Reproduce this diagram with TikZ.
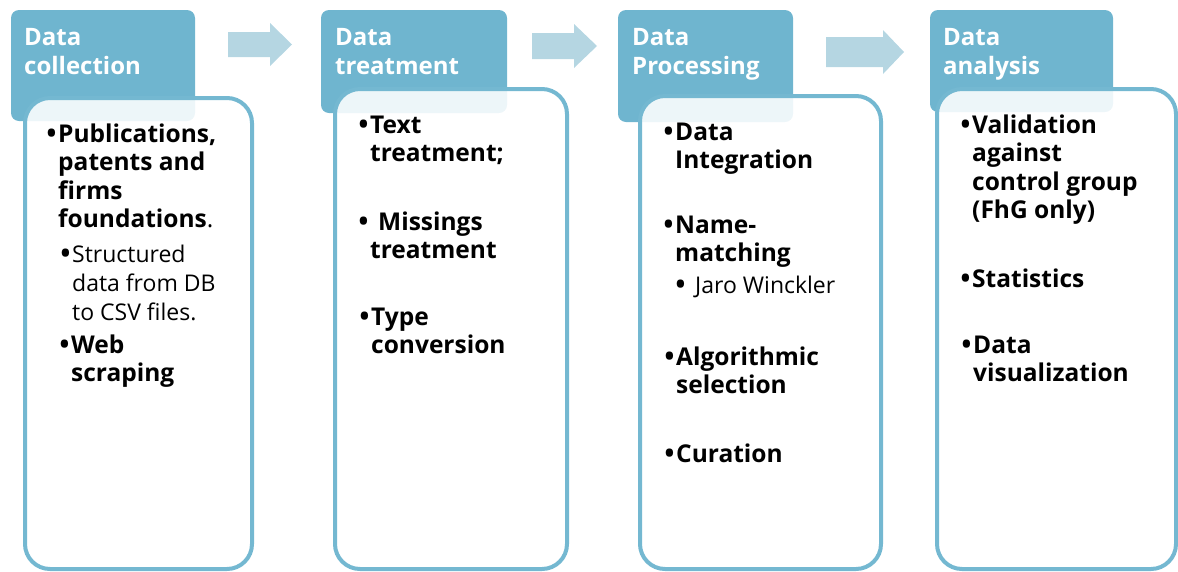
\documentclass[tikz,border=0pt]{standalone}
\usepackage{fontspec}
\setmainfont{Open Sans}
\usepackage{tikz}

\definecolor{headblue}{RGB}{111,181,207}
\definecolor{edgeblue}{RGB}{116,184,209}
\definecolor{arrowblue}{RGB}{181,214,226}

% lines of one item, baseline on the first line
\newcommand{\itemlines}[1]{\begin{tabular}[t]{@{}l@{}}#1\end{tabular}}

\tikzset{
  headbox/.style={fill=headblue, rounded corners=8pt},
  stagebox/.style={draw=edgeblue, line width=4pt, fill=white, fill opacity=0.88, draw opacity=1, rounded corners=25pt},
  flowarrow/.style={fill=arrowblue},
  headtext/.style={anchor=base west, inner sep=0pt, text=white, font=\fontsize{24}{29}\selectfont\bfseries},
  itemtext/.style={anchor=base west, inner sep=0pt, font=\fontsize{24.5}{28.5}\selectfont\bfseries},
  subtext/.style={anchor=base west, inner sep=0pt, font=\fontsize{23}{29}\selectfont},
  bulletmark/.style={anchor=base east, inner sep=0pt, yshift=-3pt, font=\fontsize{34}{34}\selectfont}
}

\begin{document}
\begin{tikzpicture}[x=1pt, y=-1pt]
\useasboundingbox (0,0) rectangle (1178,571);
\fill[headbox] (11,10) rectangle (195,121) ; % head.1
\fill[headbox] (321,10) rectangle (507,113) ; % head.2
\fill[headbox] (618,10) rectangle (793,122) ; % head.3
\fill[headbox] (930,10) rectangle (1113,112) ; % head.4
\fill[flowarrow] (228,32) -- (270,32) -- (270,23) -- (292,44.5) -- (270,66) -- (270,57) -- (228,57) -- cycle ; % arrow.1
\fill[flowarrow] (532,33) -- (574,33) -- (574,24) -- (597,46) -- (574,68) -- (574,59) -- (532,59) -- cycle ; % arrow.2
\fill[flowarrow] (826,37) -- (883,37) -- (883,30) -- (904,52) -- (883,74) -- (883,67) -- (826,67) -- cycle ; % arrow.3
\draw[stagebox] (25,98) rectangle (252,569) ; % box.1
\draw[stagebox] (335,89) rectangle (567,569) ; % box.2
\draw[stagebox] (640,96) rectangle (881,569) ; % box.3
\draw[stagebox] (937,89) rectangle (1176,569) ; % box.4

\node[headtext] (collect) at (24,45) {\itemlines{Data\\collection}};
\node[headtext] (treat) at (335,45) {\itemlines{Data\\treatment}};
\node[headtext] (process) at (632,45) {\itemlines{Data\\Processing}};
\node[headtext] (analyse) at (943,45) {\itemlines{Data\\analysis}};

% collection
\node[itemtext] (pub) at (58,142) {\itemlines{Publications,\\patents and\\firms\\foundations{\mdseries .}}};
\node[bulletmark] at (pub.base west) {\textbullet};
\node[subtext] (csv) at (72,262) {\itemlines{Structured\\data from DB\\to CSV files.}};
\node[bulletmark] at (csv.base west) {\textbullet};
\node[itemtext] (web) at (71,353) {\itemlines{Web\\scraping}};
\node[bulletmark] at (web.base west) {\textbullet};

% treatment
\node[itemtext] (txt) at (370,133) {\itemlines{Text\\treatment;}};
\node[bulletmark] at (txt.base west) {\textbullet};
\node[itemtext] (miss) at (370,230) {\itemlines{\hspace{8pt}Missings\\treatment}};
\node[bulletmark] at (miss.base west) {\textbullet};
\node[itemtext] (conv) at (371,325) {\itemlines{Type\\conversion}};
\node[bulletmark] at (conv.base west) {\textbullet};

% processing
\node[itemtext] (integ) at (675,140) {\itemlines{Data\\Integration}};
\node[bulletmark] at (integ.base west) {\textbullet};
\node[itemtext] (match) at (675,233) {\itemlines{Name-\\matching}};
\node[bulletmark] at (match.base west) {\textbullet};
\node[subtext] (jaro) at (695,293) {Jaro Winckler};
\node[bulletmark] at ([xshift=-8pt]jaro.base west) {\textbullet};
\node[itemtext] (algo) at (676,365) {\itemlines{Algorithmic\\selection}};
\node[bulletmark] at (algo.base west) {\textbullet};
\node[itemtext] (cur) at (676,462) {Curation};
\node[bulletmark] at (cur.base west) {\textbullet};

% analysis
\node[itemtext] (valid) at (972,133) {\itemlines{Validation\\against\\control group\\(FhG only)}};
\node[bulletmark] at (valid.base west) {\textbullet};
\node[itemtext] (stat) at (972,287) {Statistics};
\node[bulletmark] at (stat.base west) {\textbullet};
\node[itemtext] (visu) at (973,353) {\itemlines{Data\\visualization}};
\node[bulletmark] at (visu.base west) {\textbullet};
\end{tikzpicture}
\end{document}
